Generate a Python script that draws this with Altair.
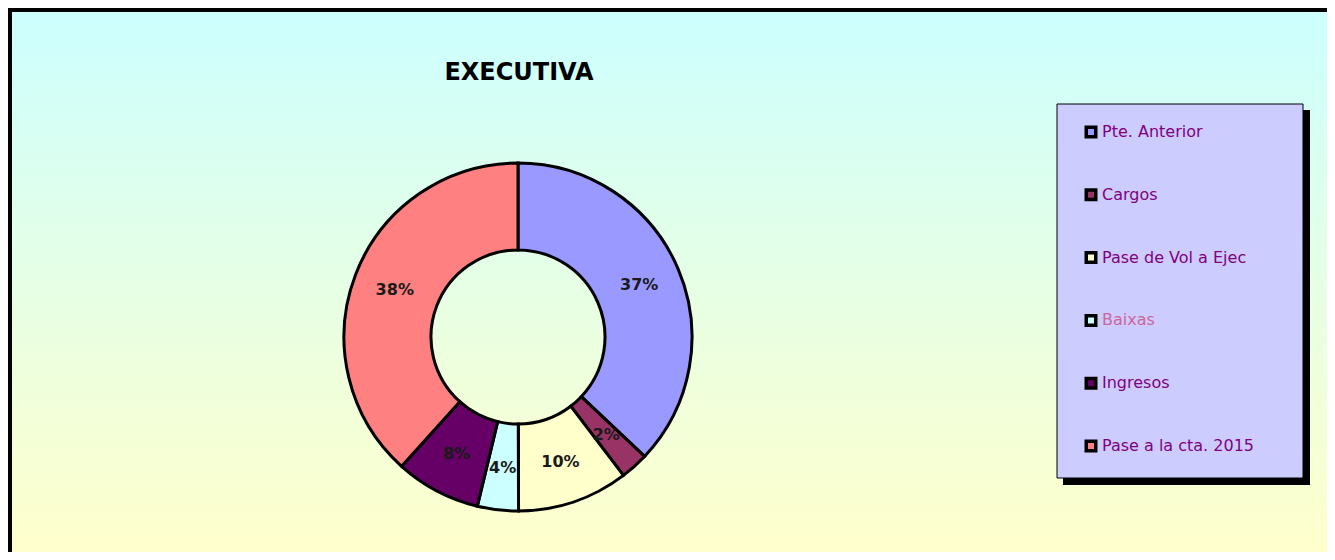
import altair as alt
import pandas as pd

# ---- data ----
categories = ["Pte. Anterior", "Cargos", "Pase de Vol a Ejec", "Baixas", "Ingresos", "Pase a la cta. 2015"]
values = [37.0, 2.6, 10.3, 3.8, 7.9, 38.3]
labels = ["37%", "2%", "10%", "4%", "8%", "38%"]
slice_colors = ["#9999ff", "#993366", "#ffffcc", "#ccffff", "#660066", "#ff8080"]
label_text_colors = ["#800080", "#800080", "#800080", "#cc6699", "#800080", "#800080"]
title_text = "EXECUTIVA"

W, H = 1319, 544
CX, CY = 510, 329
FONT = "Comic Sans MS, DejaVu Sans"

df = pd.DataFrame({
    "cat": categories,
    "value": values,
    "label": labels,
    "idx": list(range(len(categories))),
    "tcol": label_text_colors,
})
one = pd.DataFrame({"a": [0]})

bg = alt.Chart(one).mark_rect(
    color=alt.LinearGradient(
        gradient="linear",
        stops=[alt.GradientStop(color="#ccffff", offset=0),
               alt.GradientStop(color="#ffffcc", offset=1)],
        x1=0, x2=0, y1=0, y2=1,
    )
).encode(x=alt.value(0), x2=alt.value(W), y=alt.value(0), y2=alt.value(H))

top_border = alt.Chart(one).mark_rule(color="black", strokeWidth=4).encode(
    x=alt.value(0), x2=alt.value(W), y=alt.value(2))
left_border = alt.Chart(one).mark_rule(color="black", strokeWidth=4).encode(
    x=alt.value(2), y=alt.value(0), y2=alt.value(H))

color_scale = alt.Scale(domain=categories, range=slice_colors)

arcs = alt.Chart(df).mark_arc(
    innerRadius=87, outerRadius=174, stroke="black", strokeWidth=3
).encode(
    theta=alt.Theta("value:Q", stack=True),
    color=alt.Color("cat:N", scale=color_scale, legend=None),
    order=alt.Order("idx:Q"),
    x=alt.value(CX), y=alt.value(CY),
)

arc_labels = alt.Chart(df).mark_text(
    radius=132, font=FONT, fontSize=16, fontWeight="bold", color="#1a1a1a"
).encode(
    theta=alt.Theta("value:Q", stack=True),
    order=alt.Order("idx:Q"),
    text="label:N",
    x=alt.value(CX), y=alt.value(CY),
)

title = alt.Chart(one).mark_text(
    text=title_text, font=FONT, fontSize=24, fontWeight="bold", color="black"
).encode(x=alt.value(511), y=alt.value(65))

shadow = alt.Chart(one).mark_rect(color="black").encode(
    x=alt.value(1055), x2=alt.value(1302), y=alt.value(102), y2=alt.value(477))
box = alt.Chart(one).mark_rect(fill="#ccccff", stroke="black", strokeWidth=1).encode(
    x=alt.value(1049), x2=alt.value(1295), y=alt.value(96), y2=alt.value(470))

ypos = alt.Y("idx:Q", scale=alt.Scale(domain=[0, 5], range=[124, 438]), axis=None)

leg_sq = alt.Chart(df).mark_square(size=90, stroke="black", strokeWidth=3.5, opacity=1).encode(
    x=alt.value(1083), y=ypos,
    color=alt.Color("cat:N", scale=color_scale, legend=None),
)
leg_txt = alt.Chart(df).mark_text(
    align="left", baseline="middle", font=FONT, fontSize=16
).encode(
    x=alt.value(1094), y=ypos, text="cat:N",
    fill=alt.Fill("tcol:N", scale=None),
)

chart = alt.layer(
    bg, top_border, left_border, arcs, arc_labels, title, shadow, box, leg_sq, leg_txt
).properties(
    width=W, height=H, padding=0, autosize=alt.AutoSizeParams(type="none")
).configure_view(strokeWidth=0)

chart.save("out.html", embed_options={"renderer": "svg", "actions": False})
